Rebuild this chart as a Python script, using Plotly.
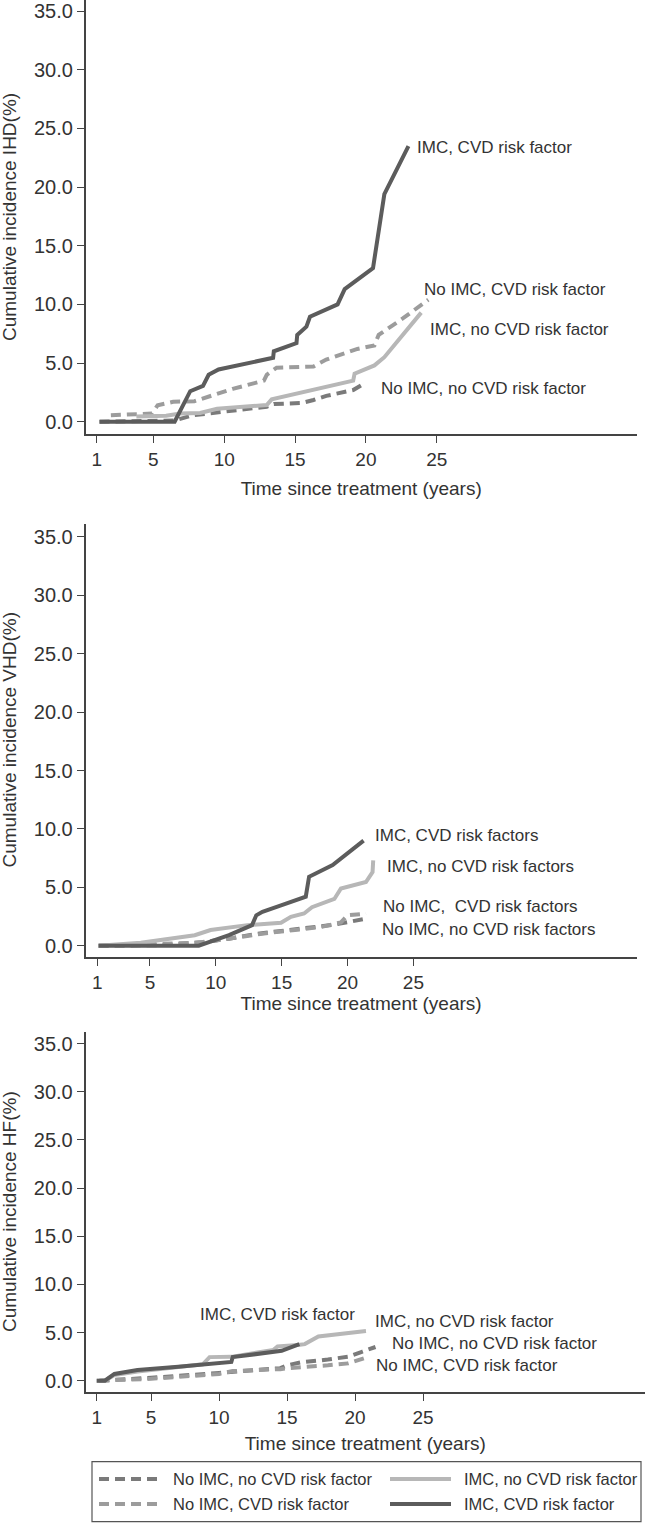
import plotly.graph_objects as go

# ---------------- data ----------------
x_ticks = [1, 5, 10, 15, 20, 25]
y_ticks = [0, 5, 10, 15, 20, 25, 30, 35]

# Panel 1: IHD
ihd_noimc_nocvd_t = [1.2, 6.5, 7.8, 9.5, 11.6, 13.0, 13.5, 15.5, 16.3, 17.2, 19.1, 19.8]
ihd_noimc_nocvd_v = [0.0, 0.1, 0.55, 0.8, 1.1, 1.28, 1.5, 1.6, 1.85, 2.2, 2.7, 3.2]
ihd_noimc_cvd_t = [2.0, 4.9, 5.3, 6.4, 7.9, 8.3, 10.6, 12.8, 13.0, 13.7, 16.3, 17.2, 19.4, 20.6, 20.9, 22.6, 24.4]
ihd_noimc_cvd_v = [0.55, 0.7, 1.4, 1.7, 1.75, 1.9, 2.8, 3.5, 4.0, 4.6, 4.7, 5.3, 6.2, 6.5, 7.4, 8.8, 10.4]
ihd_imc_nocvd_t = [3.8, 5.9, 6.9, 8.3, 9.5, 13.0, 13.35, 14.6, 17.2, 19.1, 19.2, 20.6, 21.3, 23.9]
ihd_imc_nocvd_v = [0.45, 0.5, 0.7, 0.75, 1.1, 1.42, 1.9, 2.25, 3.0, 3.5, 4.1, 4.8, 5.5, 9.3]
ihd_imc_cvd_t = [1.2, 6.5, 7.6, 8.5, 8.9, 9.6, 13.45, 13.5, 15.1, 15.15, 15.8, 16.05, 18.0, 18.5, 20.5, 21.3, 23.0]
ihd_imc_cvd_v = [0.0, 0.0, 2.6, 3.05, 4.0, 4.45, 5.45, 6.0, 6.7, 7.4, 8.1, 8.95, 10.0, 11.3, 13.1, 19.4, 23.5]

# Panel 2: VHD
vhd_noimc_nocvd_t = [1.1, 6.0, 9.0, 11.0, 13.0, 15.0, 17.0, 19.0, 21.3]
vhd_noimc_nocvd_v = [0.0, 0.05, 0.3, 0.6, 1.0, 1.25, 1.5, 1.8, 2.3]
vhd_noimc_cvd_t = [1.1, 5.0, 8.5, 10.0, 12.0, 14.0, 16.0, 18.0, 19.5, 20.0, 21.4]
vhd_noimc_cvd_v = [0.0, 0.1, 0.25, 0.45, 0.8, 1.1, 1.35, 1.6, 2.0, 2.6, 2.75]
vhd_imc_nocvd_t = [1.1, 4.3, 8.4, 9.6, 12.4, 14.95, 15.7, 16.7, 17.3, 19.0, 19.5, 21.4, 21.9, 21.95]
vhd_imc_nocvd_v = [0.0, 0.26, 0.9, 1.34, 1.76, 1.96, 2.47, 2.76, 3.3, 4.0, 4.9, 5.45, 6.3, 7.3]
vhd_imc_cvd_t = [1.1, 8.7, 11.0, 12.75, 13.07, 13.54, 14.95, 16.83, 17.08, 18.87, 21.22]
vhd_imc_cvd_v = [0.0, 0.0, 0.9, 1.76, 2.6, 2.9, 3.45, 4.2, 5.9, 6.9, 9.0]

# Panel 3: HF
hf_noimc_nocvd_t = [1.2, 5.0, 10.0, 14.5, 15.0, 16.0, 18.0, 19.5, 20.5, 21.5]
hf_noimc_nocvd_v = [0.0, 0.3, 0.8, 1.3, 1.6, 1.9, 2.2, 2.5, 3.0, 3.5]
hf_noimc_cvd_t = [1.2, 3.0, 5.0, 10.0, 11.0, 14.5, 15.0, 18.0, 19.5, 20.8]
hf_noimc_cvd_v = [0.0, 0.1, 0.2, 0.7, 1.0, 1.2, 1.3, 1.6, 1.8, 2.4]
hf_imc_nocvd_t = [1.0, 1.6, 2.3, 4.0, 8.8, 9.3, 10.9, 11.0, 14.0, 14.3, 15.8, 16.3, 17.3, 20.8]
hf_imc_nocvd_v = [0.0, 0.0, 0.6, 0.95, 1.7, 2.45, 2.5, 2.5, 3.2, 3.55, 3.7, 3.8, 4.6, 5.15]
hf_imc_cvd_t = [1.0, 1.6, 2.3, 4.0, 7.0, 10.9, 11.0, 13.0, 14.6, 15.9]
hf_imc_cvd_v = [0.0, 0.0, 0.7, 1.1, 1.45, 1.95, 2.45, 2.8, 3.1, 3.8]

legend_names = ["No IMC, no CVD risk factor", "IMC, no CVD risk factor",
                "No IMC, CVD risk factor", "IMC, CVD risk factor"]
y_titles = ["Cumulative incidence IHD(%)", "Cumulative incidence VHD(%)",
            "Cumulative incidence HF(%)"]

# ---------------- styling ----------------
W, H = 648, 1525
FONT = "Liberation Sans, Arial, sans-serif"
TXT = "#333333"
AX = "#444444"
C_NN = "#7a7a7a"   # No IMC, no CVD (dashed)
C_NC = "#9c9c9c"   # No IMC, CVD (dashed)
C_IN = "#b7b7b7"   # IMC, no CVD (solid)
C_IC = "#5c5c5c"   # IMC, CVD (solid)
DASH = "10px,6px"
LW = 4


def xp(px):
    return px / W


def yp(py):
    return 1 - py / H


# pixel geometry of each panel
panels = [
    dict(x0=85.7, x1=636.7, ytop=0, ybot=434, t1=96.7, pxyr=14.17, z=421.7, pu=11.73,
         tcy=217.5, xso=13),
    dict(x0=85.5, x1=636.7, ytop=524, ybot=957.3, t1=97.3, pxyr=13.17, z=945.7, pu=11.68,
         tcy=740, xso=5),
    dict(x0=85.5, x1=645, ytop=1032, ybot=1392.3, t1=96.7, pxyr=13.6, z=1380.7, pu=9.63,
         tcy=1211.5, xso=10),
]

series = [
    [(ihd_noimc_nocvd_t, ihd_noimc_nocvd_v, C_NN, DASH),
     (ihd_noimc_cvd_t, ihd_noimc_cvd_v, C_NC, DASH),
     (ihd_imc_nocvd_t, ihd_imc_nocvd_v, C_IN, "solid"),
     (ihd_imc_cvd_t, ihd_imc_cvd_v, C_IC, "solid")],
    [(vhd_noimc_nocvd_t, vhd_noimc_nocvd_v, C_NN, DASH),
     (vhd_noimc_cvd_t, vhd_noimc_cvd_v, C_NC, DASH),
     (vhd_imc_nocvd_t, vhd_imc_nocvd_v, C_IN, "solid"),
     (vhd_imc_cvd_t, vhd_imc_cvd_v, C_IC, "solid")],
    [(hf_noimc_nocvd_t, hf_noimc_nocvd_v, C_NN, DASH),
     (hf_noimc_cvd_t, hf_noimc_cvd_v, C_NC, DASH),
     (hf_imc_nocvd_t, hf_imc_nocvd_v, C_IN, "solid"),
     (hf_imc_cvd_t, hf_imc_cvd_v, C_IC, "solid")],
]
names = ["No IMC, no CVD risk factor", "No IMC, CVD risk factor",
         "IMC, no CVD risk factor", "IMC, CVD risk factor"]

fig = go.Figure()
layout = dict(width=W, height=H, margin=dict(l=0, r=0, t=0, b=0),
              paper_bgcolor="white", plot_bgcolor="white", showlegend=False,
              font=dict(family=FONT, color=TXT))
ann = []

for i, p in enumerate(panels):
    k = "" if i == 0 else str(i + 1)
    xr = [1 + (p["x0"] - p["t1"]) / p["pxyr"], 1 + (p["x1"] - p["t1"]) / p["pxyr"]]
    yr = [(p["z"] - p["ybot"]) / p["pu"], (p["z"] - p["ytop"]) / p["pu"]]
    layout["xaxis" + k] = dict(
        domain=[xp(p["x0"]), xp(p["x1"])], range=xr, anchor="y" + k,
        tickvals=x_ticks, ticks="outside", ticklen=7, tickwidth=1.3, tickcolor=AX,
        showline=True, linecolor=AX, linewidth=1.5, showgrid=False, zeroline=False,
        tickfont=dict(size=19, color=TXT, family=FONT),
        title=dict(text="Time since treatment (years)", font=dict(size=19, color=TXT, family=FONT),
                   standoff=p["xso"]),
    )
    layout["yaxis" + k] = dict(
        domain=[yp(p["ybot"]), yp(p["ytop"])], range=yr, anchor="x" + k,
        tickvals=y_ticks, tickformat=".1f", ticks="outside", ticklen=7, tickwidth=1.3,
        tickcolor=AX, showline=True, linecolor=AX, linewidth=1.5, showgrid=False,
        zeroline=False, tickfont=dict(size=20, color=TXT, family=FONT),
    )
    # y-axis title as rotated text, placed precisely
    ann.append(dict(text=y_titles[i], x=xp(9.5), y=yp(p["tcy"]), xref="paper", yref="paper",
                    xanchor="center", yanchor="middle", textangle=-90, showarrow=False,
                    font=dict(size=19, color=TXT, family=FONT)))
    for (t, v, c, d), nm in zip(series[i], names):
        fig.add_trace(go.Scatter(x=t, y=v, mode="lines", name=nm,
                                 line=dict(color=c, width=LW, dash=d),
                                 xaxis="x" + k, yaxis="y" + k, hoverinfo="skip"))

# in-plot curve labels (pixel positions -> paper)
labels = [
    ("IMC, CVD risk factor", 415, 148),
    ("No IMC, CVD risk factor", 422, 289),
    ("IMC, no CVD risk factor", 428, 329),
    ("No IMC, no CVD risk factor", 379, 388),
    ("IMC, CVD risk factors", 373, 835),
    ("IMC, no CVD risk factors", 385, 866),
    ("No IMC,\u00a0 CVD risk factors", 381, 906),
    ("No IMC, no CVD risk factors", 380, 929),
    ("IMC, CVD risk factor", 198, 1314),
    ("IMC, no CVD risk factor", 373, 1321),
    ("No IMC, no CVD risk factor", 390, 1343),
    ("No IMC, CVD risk factor", 374, 1365),
]
for txt, px, py in labels:
    ann.append(dict(text=txt, x=xp(px), y=yp(py), xref="paper", yref="paper",
                    xanchor="left", yanchor="middle", showarrow=False,
                    font=dict(size=17, color=TXT, family=FONT)))

# legend box (drawn manually to match sample lengths)
shapes = [dict(type="rect", xref="paper", yref="paper", x0=xp(92), x1=xp(641),
               y0=yp(1521.7), y1=yp(1461.7), line=dict(color="#555555", width=1.2),
               fillcolor="rgba(0,0,0,0)")]
leg_items = [
    (legend_names[0], C_NN, DASH, 99, 157, 171, 1479),
    (legend_names[1], C_IN, "solid", 390, 451, 462, 1479),
    (legend_names[2], C_NC, DASH, 99, 157, 171, 1504),
    (legend_names[3], C_IC, "solid", 390, 451, 462, 1504),
]
for txt, c, d, sx0, sx1, tx, ty in leg_items:
    shapes.append(dict(type="line", xref="paper", yref="paper", x0=xp(sx0), x1=xp(sx1),
                       y0=yp(ty), y1=yp(ty), line=dict(color=c, width=LW, dash=d)))
    ann.append(dict(text=txt, x=xp(tx), y=yp(ty), xref="paper", yref="paper",
                    xanchor="left", yanchor="middle", showarrow=False,
                    font=dict(size=16.5, color=TXT, family=FONT)))

layout["annotations"] = ann
layout["shapes"] = shapes
fig.update_layout(**layout)
fig.write_html("out.html", config={"displayModeBar": False},
               post_script="document.body.style.margin='0';document.body.style.padding='0';")
